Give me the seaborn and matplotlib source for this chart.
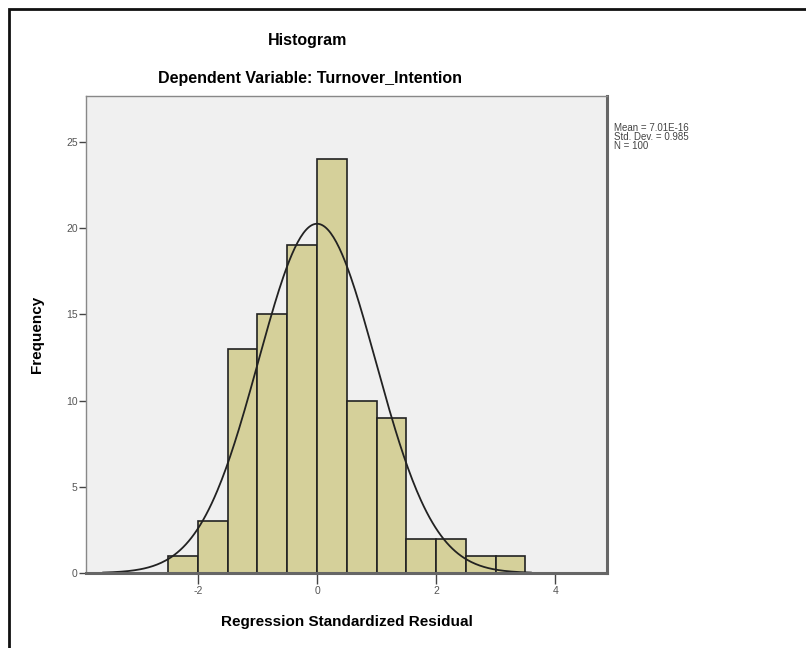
import seaborn as sns
import matplotlib.pyplot as plt
import matplotlib.patches as mpatches
import numpy as np

# histogram bins
bin_edges = [-2.5, -2.0, -1.5, -1.0, -0.5, 0.0, 0.5, 1.0, 1.5, 2.0, 2.5, 3.0, 3.5]
counts = [1, 3, 13, 15, 19, 24, 10, 9, 2, 2, 1, 1]
mean_val = 7.01e-16
std_val = 0.985
n_obs = 100
x_ticks = [-2, 0, 2, 4]
y_ticks = [0, 5, 10, 15, 20, 25]

sns.set_style("white")
plt.rcParams['font.family'] = ['Liberation Sans', 'DejaVu Sans']
plt.rcParams['axes.unicode_minus'] = False
plt.rcParams['text.color'] = 'black'
plt.rcParams['axes.labelcolor'] = 'black'

centers = [(a + b) / 2 for a, b in zip(bin_edges[:-1], bin_edges[1:])]

fig = plt.figure(figsize=(8.06, 6.48), dpi=100)
ax = fig.add_axes([86 / 806, 1 - 573 / 648, (607 - 86) / 806, (573 - 96) / 648])
ax.set_facecolor('#f0f0f0')

sns.histplot(x=centers, weights=counts, bins=bin_edges, ax=ax,
             color='#d5d09a', alpha=1, edgecolor='#222222', linewidth=1.2)

# normal curve
xs = np.linspace(-3.6, 3.6, 300)
binw = bin_edges[1] - bin_edges[0]
ys = n_obs * binw / (std_val * np.sqrt(2 * np.pi)) * np.exp(-0.5 * ((xs - mean_val) / std_val) ** 2)
sns.lineplot(x=xs, y=ys, ax=ax, color='#222222', linewidth=1.3)

ax.set_xlim(-3.88, 4.87)
ax.set_ylim(0, 27.66)
ax.set_xticks(x_ticks)
ax.set_yticks(y_ticks)
ax.tick_params(axis='both', bottom=True, left=True, direction='out', length=5, width=1,
               color='#444444', labelsize=7.5, labelcolor='#555555', pad=1)
ax.tick_params(axis='x', length=8)

for side in ['left', 'top']:
    ax.spines[side].set_color('#888888')
    ax.spines[side].set_linewidth(1)
for side in ['right', 'bottom']:
    ax.spines[side].set_color('#666666')
    ax.spines[side].set_linewidth(2.2)

ax.set_xlabel('Regression Standardized Residual', fontsize=11, fontweight='bold', labelpad=14)
ax.set_ylabel('Frequency', fontsize=11, fontweight='bold', labelpad=16)

fig.text(308 / 806, 1 - 40 / 648, 'Histogram', ha='center', va='center',
         fontsize=11.5, fontweight='bold')
fig.text(310 / 806, 1 - 78 / 648, 'Dependent Variable: Turnover_Intention', ha='center', va='center',
         fontsize=11.5, fontweight='bold')

stats = 'Mean = {:.2E}\nStd. Dev. = {}\nN = {}'.format(mean_val, std_val, n_obs)
fig.text(614 / 806, 1 - 123 / 648, stats, ha='left', va='top', fontsize=7,
         color='#444444', linespacing=0.9)

# outer frame
fig.patches.append(mpatches.Rectangle((9 / 806, -0.2), 1.2, 1.2 - 9 / 648, transform=fig.transFigure,
                                      fill=False, edgecolor='#111111', linewidth=2))

fig.savefig('out.png', dpi=100)
